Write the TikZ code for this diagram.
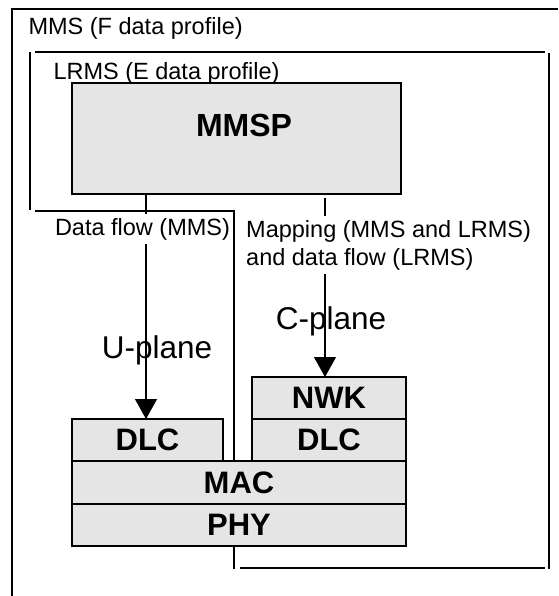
\documentclass[tikz,border=0pt]{standalone}
\usepackage{fontspec}
\setmainfont{Liberation Sans}
\usetikzlibrary{arrows.meta}
\usetikzlibrary{positioning}
\definecolor{lgray}{rgb}{0.9, 0.9, 0.9}
\newcommand{\txtfont}{\fontsize{23.5}{28}\selectfont}
\newcommand{\planefont}{\fontsize{31.5}{36}\selectfont}
\newcommand{\layerfont}{\fontsize{31}{36}\selectfont\bfseries}
\tikzset{layer/.style = {draw, fill=lgray, line width=1.5, inner sep=0, outer sep=0, font=\layerfont}}
\tikzset{frame/.style = {line width=1.3}}
\tikzset{flow/.style = {line width=1.2, -{Triangle[width=22pt, length=20pt]}}}
\tikzset{tag/.style = {fill=white, inner xsep=1, inner ysep=4, font=\txtfont}}

\begin{document}
\begin{tikzpicture}[x=1pt, y=-1pt]
      \useasboundingbox (0, 0) rectangle (558, 596);

      \draw [frame] (12, 596) -- (12, 9) -- (558, 9);
      \draw [frame] (30, 52) -- (30, 210);
      \draw [frame] (35, 52) -- (545, 52);
      \draw [frame] (549, 53) -- (549, 569);
      \draw [frame] (35, 211) -- (234, 211) -- (234, 569);
      \draw [frame] (240, 568) -- (545, 568);

      \node [font=\txtfont, anchor=base west] (mms) at (25, 35) {MMS (F data profile)};
      \node [font=\txtfont, anchor=base west] (lrms) at (50, 80) {LRMS (E data profile)};

      \node [layer, minimum width=329pt, minimum height=111pt] (mmsp) at (236.5, 138.5) {};
      \node [font=\fontsize{32}{36}\selectfont\bfseries, anchor=base] (mmsptext) at (244, 137) {MMSP};

      \node [layer, minimum width=334pt, minimum height=43pt] (mac) at (239, 482.5) {MAC};
      \node [layer, minimum width=334pt, minimum height=42pt, below=0pt of mac] (phy) {PHY};
      \node [layer, minimum width=151pt, minimum height=42pt, above right=0pt and 0pt of mac.north west] (dlcu) {DLC};
      \node [layer, minimum width=154pt, minimum height=42pt, above left=0pt and 0pt of mac.north east] (dlcc) {DLC};
      \node [layer, minimum width=154pt, minimum height=42pt, above=0pt of dlcc] (nwk) {NWK};

      \node [font=\planefont, anchor=base] (uplane) at (157, 358) {U-plane};
      \node [font=\planefont, anchor=base] (cplane) at (331, 329) {C-plane};

      \draw [flow] ([xshift=-1.5pt]dlcu.north |- mmsp.south) -- ([xshift=-1.5pt]dlcu.north);
      \draw [flow, shorten <=4pt] ([xshift=-4pt]nwk.north |- mmsp.south) -- ([xshift=-4pt]nwk.north);

      \node [tag] (dataflow) at (142.5, 229) {Data flow (MMS)};
      \node [tag, anchor=west, align=left] (mapping) at (245, 245) {Mapping (MMS and LRMS)\\and data flow (LRMS)};
    \end{tikzpicture}
\end{document}
